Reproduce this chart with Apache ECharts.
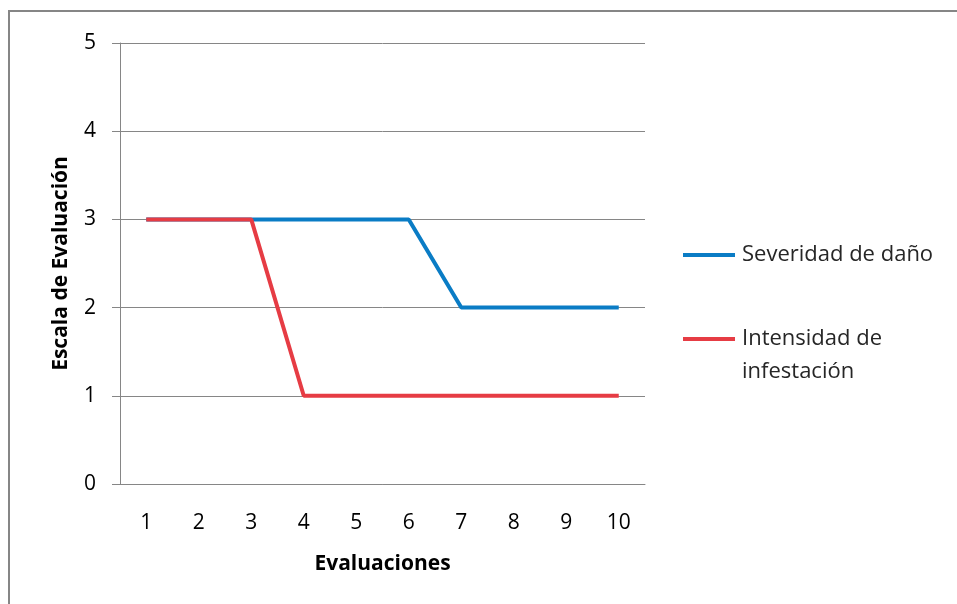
<!DOCTYPE html>
<html><head><meta charset="utf-8">
<script src="https://cdn.jsdelivr.net/npm/echarts@6/dist/echarts.min.js"></script>
<style>html,body{margin:0;padding:0;background:#fff}#c{width:957px;height:604px}</style>
</head><body><div id="c"></div>
<script>
const categories = ['1','2','3','4','5','6','7','8','9','10'];
const severidad = [3,3,3,3,3,3,2,2,2,2];
const intensidad = [3,3,3,1,1,1,1,1,1,1];
const seriesNames = ['Severidad de daño','Intensidad de infestación'];
const yTicks = {min:0, max:5, interval:1};

const font = '"Open Sans", sans-serif';
const chart = echarts.init(document.getElementById('c'));
chart.setOption({
  animation:false,
  backgroundColor:'#fff',
  graphic:[
    {type:'rect', shape:{x:9,y:11,width:1000,height:700}, style:{fill:'none', stroke:'#868686', lineWidth:2}},
    {type:'text', left:742, top:361, style:{text:'infestación', font:'22px "Open Sans", sans-serif', fill:'#262626'}}
  ],
  grid:{left:120, top:43, right:312, bottom:120},
  xAxis:{type:'category', data:categories, boundaryGap:true,
    name:'Evaluaciones', nameLocation:'middle', nameGap:70,
    nameTextStyle:{fontFamily:font, fontSize:21, fontWeight:'bold', color:'#000'},
    axisLine:{lineStyle:{color:'#868686', width:1}}, axisTick:{show:false},
    axisLabel:{fontFamily:font, fontSize:21, color:'#000', margin:29}},
  yAxis:{type:'value', min:yTicks.min, max:yTicks.max, interval:yTicks.interval,
    name:'Escala de Evaluación', nameLocation:'middle', nameGap:48,
    nameTextStyle:{fontFamily:font, fontSize:21, fontWeight:'bold', color:'#000'},
    axisLine:{show:true, lineStyle:{color:'#868686'}},
    axisTick:{show:true, inside:false, length:8, lineStyle:{color:'#868686'}},
    splitLine:{lineStyle:{color:'#868686', width:1}},
    axisLabel:{fontFamily:font, fontSize:21, color:'#000', margin:24}},
  legend:[
    {data:[seriesNames[0]], orient:'vertical', left:683, top:244, padding:0, icon:'rect', itemWidth:52, itemHeight:4, itemGap:0,
      textStyle:{fontFamily:font, fontSize:22, color:'#262626', padding:[0,0,0,2]}},
    {data:[seriesNames[1]], orient:'vertical', left:683, top:328, padding:0, icon:'rect', itemWidth:52, itemHeight:4, itemGap:0,
      formatter:()=> 'Intensidad de',
      textStyle:{fontFamily:font, fontSize:22, color:'#262626', padding:[0,0,0,2]}}
  ],
  series:[
    {name:seriesNames[0], type:'line', data:severidad, symbol:'none', lineStyle:{color:'#0A7CC5', width:4}, itemStyle:{color:'#0A7CC5'}},
    {name:seriesNames[1], type:'line', data:intensidad, symbol:'none', lineStyle:{color:'#E63C44', width:4}, itemStyle:{color:'#E63C44'}}
  ]
});
</script></body></html>
